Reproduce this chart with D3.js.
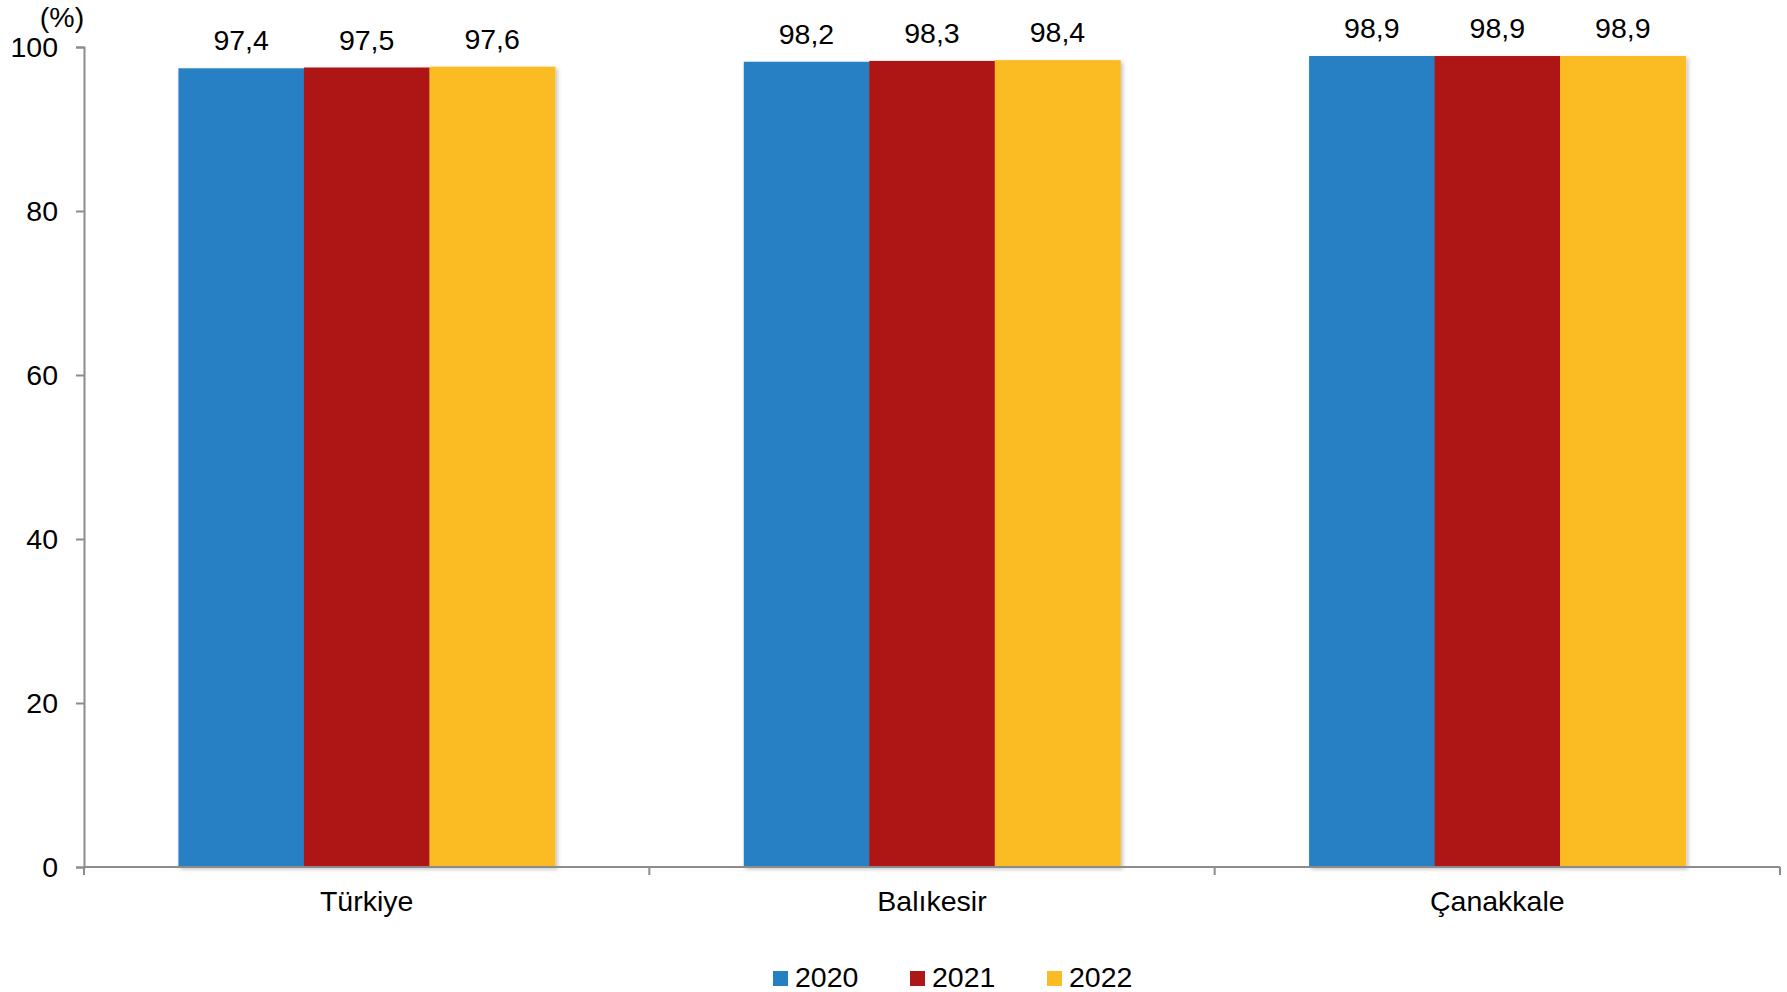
<!DOCTYPE html>
<html>
<head>
<meta charset="utf-8">
<script src="https://cdn.jsdelivr.net/npm/d3@7"></script>
<style>
  html, body { margin: 0; padding: 0; background: #fff; }
  svg { display: block; font-family: "Liberation Sans", Arial, sans-serif; }
</style>
</head>
<body>
<svg id="chart" width="1787" height="992"></svg>
<script>
const categories = ["Türkiye", "Balıkesir", "Çanakkale"];
const seriesNames = ["2020", "2021", "2022"];
const values2020 = [97.4, 98.2, 98.9];
const values2021 = [97.5, 98.3, 98.9];
const values2022 = [97.6, 98.4, 98.9];
const yTicks = [0, 20, 40, 60, 80, 100];
const colors = ["#2580C3", "#AE1718", "#FBBB24"];

(function () {
const seriesValues = [values2020, values2021, values2022];
const data = categories.map((c, i) => ({
  category: c,
  values: seriesNames.map((s, j) => ({ series: s, value: seriesValues[j][i] }))
}));

const svg = d3.select("#chart");
const fontSize = 28.5;
const mLeft = 84, mRight = 1780, mTop = 47, mBottom = 867;

const defs = svg.append("defs");
const f = defs.append("filter").attr("id", "shadow")
  .attr("x", "-10%").attr("y", "-10%").attr("width", "120%").attr("height", "120%");
f.append("feDropShadow").attr("dx", 2).attr("dy", 2).attr("stdDeviation", 2)
  .attr("flood-color", "#000").attr("flood-opacity", 0.25);

const x0 = d3.scaleBand().domain(categories).range([mLeft, mRight]).padding(0);
const x1 = d3.scaleBand().domain(seriesNames).range([0, x0.bandwidth()])
  .paddingInner(0).paddingOuter(0.7525);
const y = d3.scaleLinear().domain([0, 100]).range([mBottom, mTop]);
const color = d3.scaleOrdinal().domain(seriesNames).range(colors);
const fmt = v => d3.format(".1f")(v).replace(".", ",");

// bars
const groups = svg.append("g").selectAll("g").data(data).join("g")
  .attr("transform", d => `translate(${x0(d.category)},0)`);
groups.append("g").attr("filter", "url(#shadow)")
  .selectAll("rect").data(d => d.values).join("rect")
  .attr("x", d => x1(d.series))
  .attr("y", d => y(d.value))
  .attr("width", x1.bandwidth() + 0.5)
  .attr("height", d => y(0) - y(d.value))
  .attr("fill", d => color(d.series));

groups.selectAll("text.val").data(d => d.values).join("text")
  .attr("class", "val")
  .attr("x", d => x1(d.series) + x1.bandwidth() / 2)
  .attr("y", d => y(d.value) - 18)
  .attr("text-anchor", "middle")
  .attr("font-size", fontSize)
  .attr("fill", "#000")
  .text(d => fmt(d.value));

// y axis
const yAxis = svg.append("g").attr("transform", `translate(${mLeft},0)`)
  .call(d3.axisLeft(y).tickValues(yTicks).tickSize(8).tickPadding(18).tickFormat(d3.format("d")));
yAxis.select(".domain").attr("stroke", "#8c8c8c").attr("stroke-width", 2);
yAxis.selectAll(".tick line").attr("stroke", "#8c8c8c").attr("stroke-width", 2);
yAxis.selectAll(".tick text").attr("font-size", fontSize).attr("fill", "#000")
  .attr("font-family", "'Liberation Sans', Arial, sans-serif");

// x axis
const xAxisG = svg.append("g").attr("transform", `translate(0,${mBottom})`);
xAxisG.append("line").attr("x1", mLeft).attr("x2", mRight).attr("y1", 0).attr("y2", 0)
  .attr("stroke", "#8c8c8c").attr("stroke-width", 2);
const boundaries = categories.map(c => x0(c)).concat([x0(categories[categories.length - 1]) + x0.bandwidth()]);
xAxisG.selectAll("line.tk").data(boundaries).join("line").attr("class", "tk")
  .attr("x1", d => d).attr("x2", d => d).attr("y1", 0).attr("y2", 8)
  .attr("stroke", "#8c8c8c").attr("stroke-width", 2);
xAxisG.selectAll("text.cat").data(categories).join("text").attr("class", "cat")
  .attr("x", d => x0(d) + x0.bandwidth() / 2)
  .attr("y", 44)
  .attr("text-anchor", "middle")
  .attr("font-size", fontSize)
  .attr("fill", "#000")
  .text(d => d);

// unit label
svg.append("text").attr("x", 62).attr("y", 27).attr("text-anchor", "middle")
  .attr("font-size", fontSize).attr("fill", "#000").text("(%)");

// legend
const legendX = d3.scaleOrdinal().domain(seriesNames).range([773, 910, 1047]);
const lg = svg.append("g").selectAll("g").data(seriesNames).join("g")
  .attr("transform", d => `translate(${legendX(d)},971)`);
lg.append("rect").attr("width", 15).attr("height", 15).attr("fill", d => color(d));
lg.append("text").attr("x", 22).attr("y", 15.5).attr("font-size", fontSize)
  .attr("fill", "#000").text(d => d);
})();
</script>
</body>
</html>
